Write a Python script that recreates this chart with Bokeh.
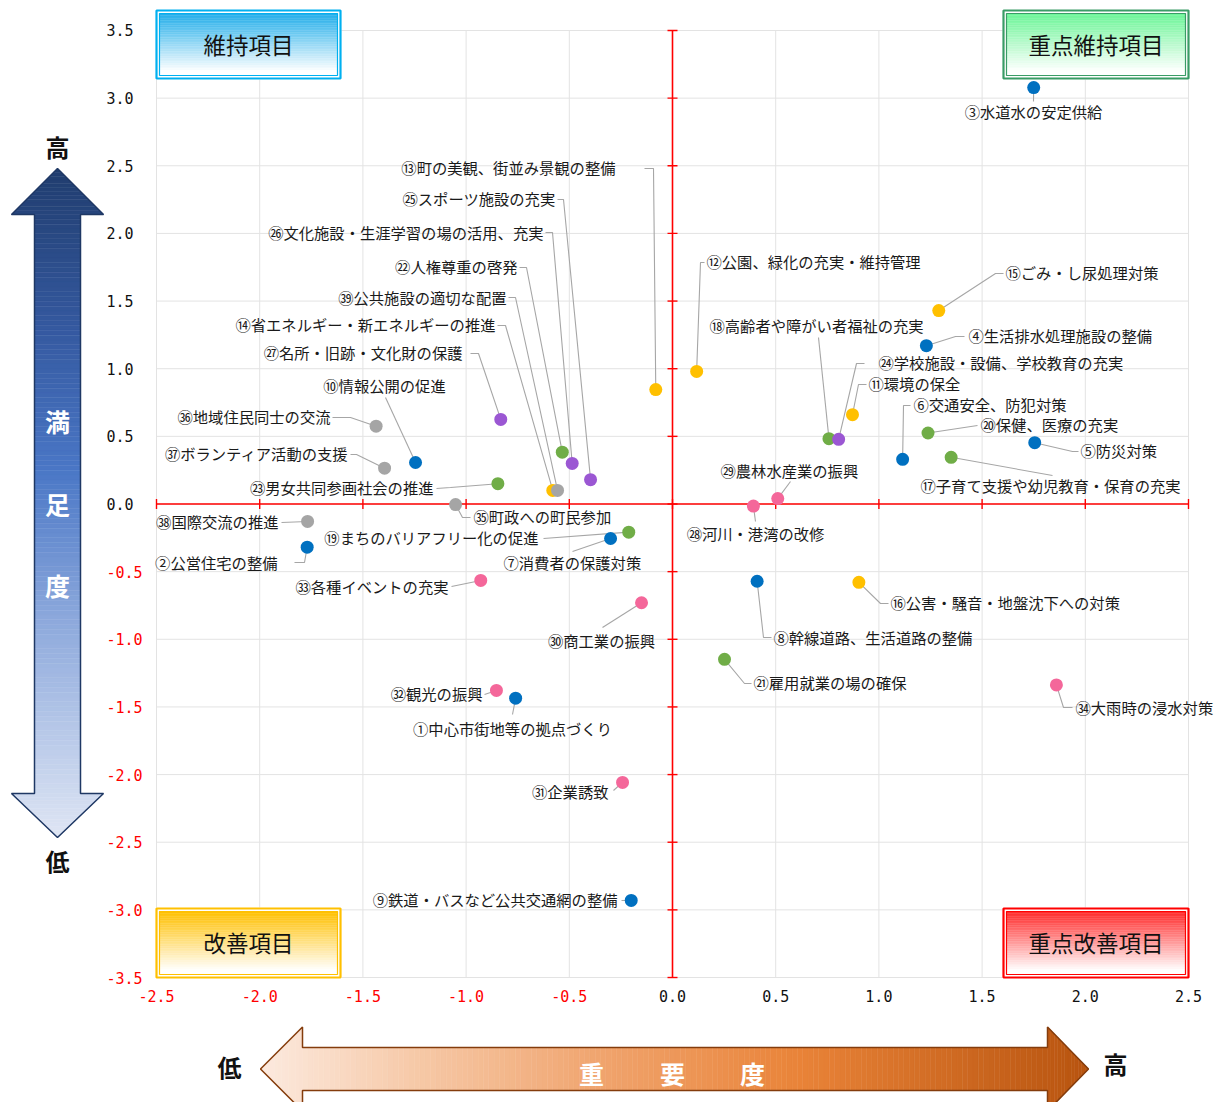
import numpy as np
from bokeh.plotting import figure
from bokeh.models import Range1d, LinearAxis, FixedTicker, PrintfTickFormatter
from bokeh.core.properties import value
from bokeh.embed import file_html
from bokeh.resources import INLINE

# ---------------- data ----------------
item_labels = [
    "①中心市街地等の拠点づくり", "②公営住宅の整備", "③水道水の安定供給", "④生活排水処理施設の整備",
    "⑤防災対策", "⑥交通安全、防犯対策", "⑦消費者の保護対策", "⑧幹線道路、生活道路の整備",
    "⑨鉄道・バスなど公共交通網の整備", "⑩情報公開の促進", "⑪環境の保全", "⑫公園、緑化の充実・維持管理",
    "⑬町の美観、街並み景観の整備", "⑭省エネルギー・新エネルギーの推進", "⑮ごみ・し尿処理対策",
    "⑯公害・騒音・地盤沈下への対策", "⑰子育て支援や幼児教育・保育の充実", "⑱高齢者や障がい者福祉の充実",
    "⑲まちのバリアフリー化の促進", "⑳保健、医療の充実", "㉑雇用就業の場の確保", "㉒人権尊重の啓発",
    "㉓男女共同参画社会の推進", "㉔学校施設・設備、学校教育の充実", "㉕スポーツ施設の充実",
    "㉖文化施設・生涯学習の場の活用、充実", "㉗名所・旧跡・文化財の保護", "㉘河川・港湾の改修",
    "㉙農林水産業の振興", "㉚商工業の振興", "㉛企業誘致", "㉜観光の振興", "㉝各種イベントの充実",
    "㉞大雨時の浸水対策", "㉟町政への町民参加", "㊱地域住民同士の交流", "㊲ボランティア活動の支援",
    "㊳国際交流の推進", "㊴公共施設の適切な配置",
]
importance = [
    -0.76, -1.77, 1.75, 1.23, 1.755, 1.115, -0.30, 0.41, -0.20, -1.245,
    0.872, 0.117, -0.081, -0.58, 1.29, 0.903, 1.35, 0.758, -0.212, 1.238,
    0.252, -0.534, -0.846, 0.805, -0.397, -0.486, -0.832, 0.392, 0.51, -0.15,
    -0.242, -0.853, -0.929, 1.86, -1.051, -1.436, -1.395, -1.768, -0.557,
]
satisfaction = [
    -1.435, -0.319, 3.078, 1.17, 0.453, 0.33, -0.255, -0.571, -2.93, 0.307,
    0.66, 0.98, 0.846, 0.10, 1.43, -0.579, 0.345, 0.483, -0.208, 0.525,
    -1.148, 0.383, 0.15, 0.478, 0.18, 0.30, 0.625, -0.015, 0.04, -0.73,
    -2.058, -1.378, -0.565, -1.337, -0.004, 0.575, 0.265, -0.129, 0.10,
]
groups = (["blue"] * 10 + ["yellow"] * 6 + ["green"] * 7 + ["purple"] * 4
          + ["pink"] * 7 + ["gray"] * 5)

x_ticks = [-2.5, -2.0, -1.5, -1.0, -0.5, 0.0, 0.5, 1.0, 1.5, 2.0, 2.5]
y_ticks = [-3.5, -3.0, -2.5, -2.0, -1.5, -1.0, -0.5, 0.0, 0.5, 1.0, 1.5, 2.0, 2.5, 3.0, 3.5]

quadrant_titles = ["維持項目", "重点維持項目", "改善項目", "重点改善項目"]

# ---------------- styles / layout ----------------
GROUP_COLORS = {"blue": "#0070C0", "yellow": "#FFC000", "green": "#70AD47",
                "purple": "#9B57D3", "pink": "#F4679A", "gray": "#A5A5A5"}
FONT = "Noto Sans CJK JP"
W, H = 1216, 1102
PX, PY = 206.4, 135.29          # pixels per data unit
X0, Y0 = 672.0, 503.5           # screen position of (0, 0)
OFF = 0                         # screen offset of the canvas
TDY = -2                        # vertical nudge for CJK text


def dx(sx):
    return (sx - X0) / PX


def dy(sy):
    return (Y0 - sy) / PY


def ty_(sy):
    return dy(sy + TDY)


# label anchor (screen px), alignment, leader elbows (screen px)
LABEL_LAYOUT = [
    (512, 729, "center", [(512, 714)]),
    (277, 563, "right", [(304, 562), (294, 562)]),
    (1033, 112, "center", [(1033, 101)]),
    (968, 336, "left", [(955, 336), (964, 336)]),
    (1080, 451, "left", [(1072, 451), (1078, 451)]),
    (913, 405, "left", [(903, 405), (910, 405)]),
    (503, 563, "left", [(572, 551)]),
    (773, 638, "left", [(763, 637), (771, 637)]),
    (617, 900, "right", [(621, 900)]),
    (384, 386, "center", [(385, 397)]),
    (868, 384, "left", [(858, 384), (866, 384)]),
    (706, 262, "left", [(700, 262), (704, 262)]),
    (615, 168, "right", [(653, 168), (644, 168)]),
    (495, 325, "right", [(505, 325), (497, 325)]),
    (1005, 273, "left", [(995, 273), (1003, 273)]),
    (890, 603, "left", [(880, 603), (888, 603)]),
    (920, 486, "left", [(1052, 475)]),
    (709, 326, "left", [(818, 337)]),
    (538, 538, "right", [(543, 538)]),
    (980, 425, "left", [(977, 425)]),
    (753, 683, "left", [(744, 683), (751, 683)]),
    (517, 267, "right", [(526, 267), (519, 267)]),
    (433, 488, "right", [(450, 487), (436, 488)]),
    (878, 363, "left", [(856, 363), (864, 363)]),
    (555, 199, "right", [(563, 199), (557, 199)]),
    (543, 233, "right", [(552, 232), (545, 232)]),
    (462, 353, "right", [(478, 353), (470, 353)]),
    (755, 534, "center", [(755, 521)]),
    (720, 471, "left", [(790, 481)]),
    (601, 641, "center", [(602, 627)]),
    (608, 792, "right", [(613, 790)]),
    (482, 694, "right", [(484, 694)]),
    (448, 587, "right", [(451, 586)]),
    (1075, 708, "left", [(1063, 707), (1072, 707)]),
    (473, 517, "left", [(462, 517), (470, 517)]),
    (330, 417, "right", [(350, 417), (332, 417)]),
    (348, 454, "right", [(356, 454), (350, 454)]),
    (278, 522, "right", [(281, 522)]),
    (506, 298, "right", [(515, 297), (508, 297)]),
]

# quadrant boxes: left, top, right, bottom (screen px), top colour, border colour
BOX_LAYOUT = [
    (155, 9, 341, 79, "#22AEEA", "#00B0F0"),
    (1002, 9, 1189, 79, "#6CF597", "#3A9C66"),
    (155, 907, 341, 978, "#FFC000", "#FFC000"),
    (1002, 907, 1189, 978, "#FF2A2A", "#FF0000"),
]


def hex2rgb(h):
    return np.array([int(h[i:i + 2], 16) for i in (1, 3, 5)], dtype=float)


def interp(stops, v):
    pos = [s[0] for s in stops]
    cols = [hex2rgb(s[1]) for s in stops]
    if v <= pos[0]:
        c = cols[0]
    elif v >= pos[-1]:
        c = cols[-1]
    else:
        k = np.searchsorted(pos, v) - 1
        t = (v - pos[k]) / (pos[k + 1] - pos[k])
        c = cols[k] * (1 - t) + cols[k + 1] * t
    return "#%02x%02x%02x" % tuple(int(round(x)) for x in c)


# ---------------- figure ----------------
p = figure(width=W, height=H, output_backend="svg", toolbar_location=None,
           x_range=Range1d(dx(OFF), dx(OFF + W)), y_range=Range1d(dy(OFF + H), dy(OFF)),
           x_axis_type=None, y_axis_type=None, min_border=0)
p.min_border_left = p.min_border_right = p.min_border_top = p.min_border_bottom = 0
p.outline_line_color = None
p.background_fill_color = "white"
p.border_fill_color = "white"

# grid
p.segment(x0=x_ticks, y0=[y_ticks[0]] * len(x_ticks), x1=x_ticks, y1=[y_ticks[-1]] * len(x_ticks),
          line_color="#E3E3E3", line_width=1)
p.segment(x0=[x_ticks[0]] * len(y_ticks), y0=y_ticks, x1=[x_ticks[-1]] * len(y_ticks), y1=y_ticks,
          line_color="#E3E3E3", line_width=1)

# red cross with tick marks
p.segment(x0=[0, x_ticks[0]], y0=[y_ticks[0], 0], x1=[0, x_ticks[-1]], y1=[y_ticks[-1], 0],
          line_color="#FF0000", line_width=1.6)
p.segment(x0=x_ticks, y0=[-5 / PY] * len(x_ticks), x1=x_ticks, y1=[5 / PY] * len(x_ticks),
          line_color="#FF0000", line_width=1.4)
p.segment(x0=[-5 / PX] * len(y_ticks), y0=y_ticks, x1=[5 / PX] * len(y_ticks), y1=y_ticks,
          line_color="#FF0000", line_width=1.4)

# quadrant boxes with gradient
for (l, t, r, b, ctop, cb), title in zip(BOX_LAYOUT, quadrant_titles):
    p.quad(left=dx(l), right=dx(r), top=dy(t), bottom=dy(b), fill_color="white", line_color=None)
    n = 36
    il, it, ir, ib = l + 4, t + 4, r - 4, b - 4
    edges = np.linspace(it, ib, n + 1)
    cols = [interp([(it, ctop), (ib - 4, "#FFFFFF")], 0.5 * (edges[i] + edges[i + 1])) for i in range(n)]
    p.quad(left=[dx(il)] * n, right=[dx(ir)] * n, top=[dy(e) for e in edges[:-1]],
           bottom=[dy(e) for e in edges[1:]], fill_color=cols, line_color=cols, line_width=0.4)
    p.quad(left=dx(l + 1), right=dx(r - 1), top=dy(t + 1), bottom=dy(b - 1), fill_color=None,
           line_color=cb, line_width=2.2)
    p.quad(left=dx(il), right=dx(ir), top=dy(it), bottom=dy(ib), fill_color=None,
           line_color=cb, line_width=1.2)
    p.text(x=[dx((l + r) / 2)], y=[ty_((t + b) / 2 + 1)], text=[title], text_align="center",
           text_baseline="middle", text_font=value(FONT), text_font_size="22.5px", text_color="#111111")

# ---------- vertical gradient arrow (満足度) ----------
vcx, vtip, vhb, vbb, vbtip, vhw, vsw = 57, 168, 214, 793, 837, 46, 23
v_stops = [(vtip, "#203D6E"), (330, "#3559A0"), (470, "#4A77C6"), (620, "#8DA9DC"), (vbtip, "#DFE6F4")]


def vhalf(y):
    if y <= vhb:
        return vhw * (y - vtip) / (vhb - vtip)
    if y >= vbb:
        return vhw * (vbtip - y) / (vbtip - vbb)
    return vsw


xs, ys, cs = [], [], []
for a, bnd, n in [(vtip, vhb, 12), (vhb, vbb, 120), (vbb, vbtip, 12)]:
    e = np.linspace(a, bnd, n + 1)
    for i in range(n):
        y0, y1 = e[i], e[i + 1]
        w0 = vhalf(y0 + 1e-6) if i == 0 else vhalf(y0)
        w1 = vhalf(y1 - 1e-6)
        if a == vhb:
            w0 = w1 = vsw
        xs.append([dx(vcx - w0), dx(vcx + w0), dx(vcx + w1), dx(vcx - w1)])
        ys.append([dy(y0), dy(y0), dy(y1), dy(y1)])
        cs.append(interp(v_stops, 0.5 * (y0 + y1)))
p.patches(xs, ys, fill_color=cs, line_color=cs, line_width=0.5)
vx = [vcx, vcx + vhw, vcx + vsw, vcx + vsw, vcx + vhw, vcx, vcx - vhw, vcx - vsw, vcx - vsw, vcx - vhw]
vy = [vtip, vhb, vhb, vbb, vbb, vbtip, vbb, vbb, vhb, vhb]
p.patch([dx(v) for v in vx], [dy(v) for v in vy], fill_color=None, line_color="#1F3864", line_width=1.5)
p.text(x=[dx(vcx)] * 3, y=[ty_(422), ty_(505), ty_(586)], text=["満", "足", "度"], text_align="center",
       text_baseline="middle", text_font=value(FONT), text_font_size="25px", text_font_style="bold",
       text_color="white")
p.text(x=[dx(vcx)] * 2, y=[ty_(148), ty_(862)], text=["高", "低"], text_align="center",
       text_baseline="middle", text_font=value(FONT), text_font_size="24px", text_font_style="bold",
       text_color="#111111")

# ---------- horizontal gradient arrow (重要度) ----------
hcy, hltip, hlb, hrb, hrtip, hhh, hsh = 1068.5, 260, 302, 1047, 1088, 42, 21.5
h_stops = [(hltip, "#FCEADF"), (420, "#F6C8A6"), (600, "#F0A46E"), (800, "#E98338"), (hrtip, "#B8540F")]


def hhalf(x):
    if x <= hlb:
        return hhh * (x - hltip) / (hlb - hltip)
    if x >= hrb:
        return hhh * (hrtip - x) / (hrtip - hrb)
    return hsh


xs, ys, cs = [], [], []
for a, bnd, n in [(hltip, hlb, 12), (hlb, hrb, 140), (hrb, hrtip, 12)]:
    e = np.linspace(a, bnd, n + 1)
    for i in range(n):
        x0, x1 = e[i], e[i + 1]
        h0, h1 = hhalf(x0), hhalf(x1)
        if a == hlb:
            h0 = h1 = hsh
        elif a == hltip and i == n - 1:
            h1 = hhh
        elif a == hrb and i == 0:
            h0 = hhh
        xs.append([dx(x0), dx(x1), dx(x1), dx(x0)])
        ys.append([dy(hcy - h0), dy(hcy - h1), dy(hcy + h1), dy(hcy + h0)])
        cs.append(interp(h_stops, 0.5 * (x0 + x1)))
p.patches(xs, ys, fill_color=cs, line_color=cs, line_width=0.5)
hx = [hltip, hlb, hlb, hrb, hrb, hrtip, hrb, hrb, hlb, hlb]
hy = [hcy, hcy - hhh, hcy - hsh, hcy - hsh, hcy - hhh, hcy, hcy + hhh, hcy + hsh, hcy + hsh, hcy + hhh]
p.patch([dx(v) for v in hx], [dy(v) for v in hy], fill_color=None, line_color="#843C0C", line_width=1.5)
p.text(x=[dx(591), dx(672), dx(752)], y=[ty_(1074)] * 3, text=["重", "要", "度"], text_align="center",
       text_baseline="middle", text_font=value(FONT), text_font_size="25px", text_font_style="bold",
       text_color="white")
p.text(x=[dx(229), dx(1115)], y=[ty_(1068), ty_(1065)], text=["低", "高"], text_align="center",
       text_baseline="middle", text_font=value(FONT), text_font_size="24px", text_font_style="bold",
       text_color="#111111")

# ---------- leaders, points, labels ----------
lxs, lys = [], []
for xi, yi, (tx, tyy, al, elbows) in zip(importance, satisfaction, LABEL_LAYOUT):
    lxs.append([xi] + [dx(e[0]) for e in elbows])
    lys.append([yi] + [dy(e[1]) for e in elbows])
p.multi_line(lxs, lys, line_color="#A6A6A6", line_width=1.1)

p.scatter(importance, satisfaction, size=13, fill_color=[GROUP_COLORS[g] for g in groups],
          line_color=None)

for al in ("left", "right", "center"):
    idx = [i for i, L in enumerate(LABEL_LAYOUT) if L[2] == al]
    p.text(x=[dx(LABEL_LAYOUT[i][0]) for i in idx], y=[ty_(LABEL_LAYOUT[i][1]) for i in idx],
           text=[item_labels[i] for i in idx], text_align=al, text_baseline="middle",
           text_font=value(FONT), text_font_size="15.3px", text_color="#1A1A1A")

# ---------- tick-label axes (fixed at plot edges) ----------
def make_axis(ticks, color, standoff):
    ax = LinearAxis(ticker=FixedTicker(ticks=ticks), formatter=PrintfTickFormatter(format="%.1f"))
    ax.axis_line_color = None
    ax.major_tick_line_color = None
    ax.minor_tick_line_color = None
    ax.major_tick_in = 0
    ax.major_tick_out = 0
    ax.major_label_standoff = standoff
    ax.major_label_text_font = "DejaVu Sans Mono"
    ax.major_label_text_font_size = "15px"
    ax.major_label_text_color = color
    return ax


ya = make_axis([t for t in y_ticks if t >= 0], "#111111", 23)
ya.fixed_location = x_ticks[0]
yb = make_axis([t for t in y_ticks if t < 0], "#FF0000", 14)
yb.fixed_location = x_ticks[0]
xa = make_axis([t for t in x_ticks if t >= 0], "#111111", 12)
xa.fixed_location = y_ticks[0]
xb = make_axis([t for t in x_ticks if t < 0], "#FF0000", 12)
xb.fixed_location = y_ticks[0]
p.add_layout(ya, "left")
p.add_layout(yb, "left")
p.add_layout(xa, "below")
p.add_layout(xb, "below")

open("out.html", "w").write(file_html(p, INLINE))
